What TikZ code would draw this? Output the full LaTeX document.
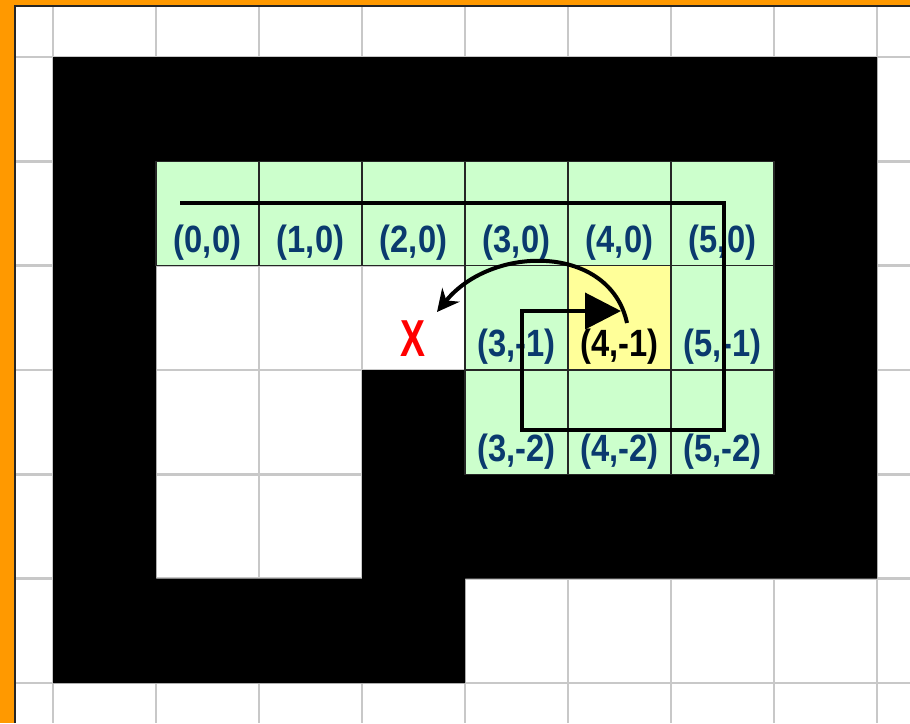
\documentclass[tikz,border=0pt]{standalone}
\usepackage{fontspec}
\usepackage{graphicx}
\setmainfont{Liberation Sans}
\usetikzlibrary{arrows.meta}
\definecolor{wallorange}{RGB}{255,153,0}
\definecolor{cellgreen}{RGB}{204,255,204}
\definecolor{cellyellow}{RGB}{255,255,153}
\definecolor{labnavy}{RGB}{10,58,110}
\definecolor{gridgray}{RGB}{200,200,200}
\newcommand{\lbl}[1]{\scalebox{0.86}[1]{#1}}
\tikzset{
  gridline/.style={draw=gridgray, line width=2.5pt},
  cellline/.style={draw=black!85, line width=1.5pt},
  lab/.style={font=\bfseries\fontsize{38}{38}\selectfont, text=labnavy, inner sep=0pt, anchor=center},
  labdark/.style={lab, text=black},
  pathline/.style={draw=black, line width=4pt, miter limit=10},
}
\begin{document}
\begin{tikzpicture}[x=1pt,y=-1pt]
\useasboundingbox (0,0) rectangle (910,723);
\fill[white] (0,0) rectangle (910,723);
% grid
\foreach \i in {0,...,8} \draw[gridline] ({53+103*\i},0) -- ({53+103*\i},723);
\foreach \j in {0,...,6} \draw[gridline] (0,{57+104.33*\j}) -- (910,{57+104.33*\j});
% walls (even-odd)
\def\XA{53}\def\XB{156}\def\XC{259}\def\XD{362}\def\XE{465}\def\XF{568}\def\XG{671}\def\XH{774}\def\XI{877}
\def\YA{57}\def\YB{161.3}\def\YC{265.7}\def\YD{370}\def\YE{474.3}\def\YF{578.7}\def\YG{683}
\fill[black, even odd rule]
  (\XA,\YA) -- (\XI,\YA) -- (\XI,\YF) -- (\XE,\YF) -- (\XE,\YG) -- (\XA,\YG) -- cycle
  (\XB,\YB) -- (\XH,\YB) -- (\XH,\YE) -- (\XE,\YE) -- (\XE,\YD) -- (\XD,\YD) -- (\XD,\YF) -- (\XB,\YF) -- cycle;
% green and yellow cells
\fill[cellgreen] (\XB,\YB) rectangle (\XH,\YC);
\fill[cellgreen] (\XE,\YC) rectangle (\XH,\YE);
\fill[cellyellow] (\XF,\YC) rectangle (\XG,\YD);
\foreach \xa/\xb in {\XB/\XC,\XC/\XD,\XD/\XE,\XE/\XF,\XF/\XG,\XG/\XH}
  \draw[cellline] (\xa,\YB) rectangle (\xb,\YC);
\foreach \xa/\xb in {\XE/\XF,\XF/\XG,\XG/\XH}{
  \draw[cellline] (\xa,\YC) rectangle (\xb,\YD);
  \draw[cellline] (\xa,\YD) rectangle (\xb,\YE);
}
% labels
\node[lab] (l00) at (207.5,242.7) {\lbl{(0,0)}};
\node[lab] (l10) at (310.5,242.7) {\lbl{(1,0)}};
\node[lab] (l20) at (413.5,242.7) {\lbl{(2,0)}};
\node[lab] (l30) at (516.5,242.7) {\lbl{(3,0)}};
\node[lab] (l40) at (619.5,242.7) {\lbl{(4,0)}};
\node[lab] (l50) at (722.5,242.7) {\lbl{(5,0)}};
\node[lab] (l3m1) at (516.5,347) {\lbl{(3,-1)}};
\node[labdark] (l4m1) at (619.5,347) {\lbl{(4,-1)}};
\node[lab] (l5m1) at (722.5,347) {\lbl{(5,-1)}};
\node[lab] (l3m2) at (516.5,451.5) {\lbl{(3,-2)}};
\node[lab] (l4m2) at (619.5,451.5) {\lbl{(4,-2)}};
\node[lab] (l5m2) at (722.5,451.5) {\lbl{(5,-2)}};
% red X
\node[font=\bfseries\fontsize{52}{52}\selectfont, text=red, inner sep=0pt] (xmark) at (413,339) {\scalebox{0.72}[1]{X}};
% path
\coordinate (p0) at (180,203);
\coordinate (p1) at (724,203);
\coordinate (p2) at (724,430);
\coordinate (p3) at (522,430);
\coordinate (p4) at (522,311);
\coordinate (p5) at (621,311);
\draw[pathline, -{Triangle[length=36pt,width=36pt]}] (p0) -- (p1) -- (p2) -- (p3) -- (p4) -- (p5);
% curved arrow
\coordinate (c0) at (627,323);
\coordinate (c1) at (437,312);
\draw[draw=black, line width=4pt, -{Stealth[length=22pt,width=22pt]}] (c0) .. controls (610,244) and (492,244) .. (c1);
% orange frame
\fill[wallorange] (0,0) rectangle (14,723);
\fill[wallorange] (0,0) rectangle (910,5);
\draw[black!85, line width=2pt] (15,723) -- (15,6) -- (910,6);
\end{tikzpicture}
\end{document}
